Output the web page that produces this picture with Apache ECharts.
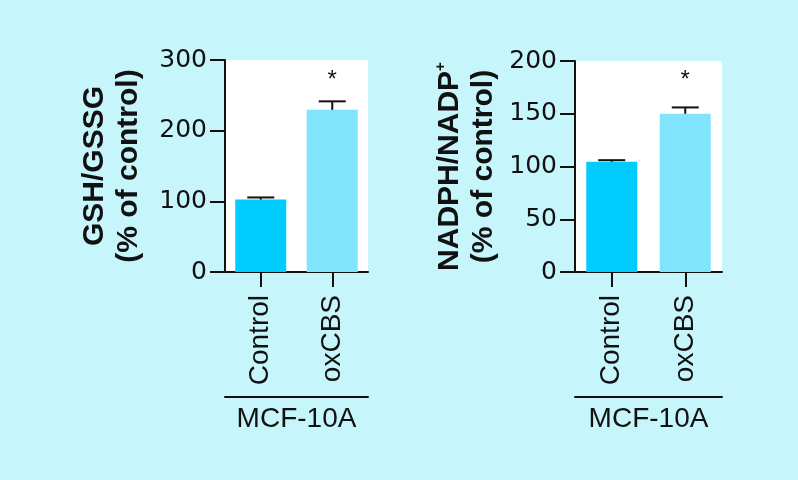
<!DOCTYPE html>
<html>
<head>
<meta charset="utf-8">
<script src="https://cdn.jsdelivr.net/npm/echarts@6/dist/echarts.min.js"></script>
<style>
html,body{margin:0;padding:0;background:#c6f6fb;}
#c{width:798px;height:480px;}
</style>
</head>
<body>
<div id="c"></div>
<script>
const categories = ['Control', 'oxCBS'];
const groupLabel = ['MCF-10A'];
const gshMean = [102.5, 229.5];
const gshErr = [3, 12];
const nadphMean = [104.5, 150];
const nadphErr = [1.5, 6];
const significance = ['', '*'];
const barColors = ['#00ccff', '#80e4fc'];
const leftTicks = {min: 0, max: 300, interval: 100};
const rightTicks = {min: 0, max: 200, interval: 50};

const FONT = 'Liberation Sans, Arial, Helvetica, sans-serif';
const WIDE = 'DejaVu Sans, Verdana, sans-serif';
const chart = echarts.init(document.getElementById('c'));

function barData(vals) {
  return vals.map((v, i) => ({value: v, itemStyle: {color: barColors[i]}}));
}
function errData(means, errs) {
  return means.map((m, i) => [i, m, errs[i]]);
}
function makeRender(starOffset) {
  return function (params, api) {
    const x = api.value(0), m = api.value(1), e = api.value(2);
    const sig = significance[params.dataIndex];
    const p0 = api.coord([x, m]);
    const p1 = api.coord([x, m + e]);
    const half = 13.5;
    const children = [
      {type: 'line', shape: {x1: p0[0], y1: p0[1], x2: p1[0], y2: p1[1]}, style: {stroke: '#111', lineWidth: 2}},
      {type: 'line', shape: {x1: p1[0] - half, y1: p1[1], x2: p1[0] + half, y2: p1[1]}, style: {stroke: '#111', lineWidth: 2}}
    ];
    if (sig) {
      children.push({type: 'text', style: {text: sig, x: p1[0], y: p1[1] - starOffset, align: 'center', verticalAlign: 'middle', font: '24px ' + FONT, fill: '#111'}});
    }
    return {type: 'group', children: children};
  };
}

const axisLineStyle = {lineStyle: {color: '#111', width: 2}};
function yAxis(gi, ticks, name, gap) {
  return {
    type: 'value', gridIndex: gi, min: ticks.min, max: ticks.max, interval: ticks.interval,
    axisLine: {show: true, ...axisLineStyle},
    axisTick: {show: true, length: 15, lineStyle: {color: '#111', width: 2}},
    axisLabel: {color: '#111', fontSize: 25, fontFamily: WIDE, margin: 18},
    splitLine: {show: false},
    name: name, nameLocation: 'middle', nameRotate: 90, nameGap: gap,
    nameTextStyle: {color: '#111', fontSize: 30, fontWeight: 'bold', fontFamily: FONT, lineHeight: 34, rich: nameRich}
  };
}
function xAxis(gi) {
  return {
    type: 'category', gridIndex: gi, data: categories,
    axisLine: {show: true, ...axisLineStyle},
    axisTick: {show: true, alignWithLabel: true, length: 15, lineStyle: {color: '#111', width: 2}},
    axisLabel: {color: '#111', fontSize: 28, fontFamily: FONT, rotate: 90, margin: 23}
  };
}
function groupAxis(gi) {
  return {
    type: 'category', gridIndex: gi, data: groupLabel, position: 'bottom', offset: 125,
    axisLine: {show: true, ...axisLineStyle},
    axisTick: {show: false},
    axisLabel: {color: '#111', fontSize: 28, fontFamily: FONT, margin: 8}
  };
}

const nameRich = {
  a: {fontSize: 30, fontWeight: 'bold', fontFamily: FONT, color: '#111', lineHeight: 34},
  sup: {fontSize: 15, fontWeight: 'bold', fontFamily: FONT, color: '#111', lineHeight: 15, verticalAlign: 'top'}
};

chart.setOption({
  backgroundColor: '#c6f6fb',
  animation: false,
  grid: [
    {left: 225, top: 60, width: 143, height: 212, show: true, backgroundColor: '#fff', borderWidth: 0},
    {left: 575, top: 61, width: 147, height: 211, show: true, backgroundColor: '#fff', borderWidth: 0}
  ],
  xAxis: [xAxis(0), xAxis(1), groupAxis(0), groupAxis(1)],
  yAxis: [
    yAxis(0, leftTicks, '{a|GSH/GSSG}\n{a|(% of control)}', 79),
    yAxis(1, rightTicks, '{a|NADPH/NADP}{sup|+}\n{a|(% of control)}', 74)
  ],
  series: [
    {type: 'bar', xAxisIndex: 0, yAxisIndex: 0, data: barData(gshMean), barWidth: 51},
    {type: 'custom', xAxisIndex: 0, yAxisIndex: 0, data: errData(gshMean, gshErr), renderItem: makeRender(21), z: 5},
    {type: 'bar', xAxisIndex: 1, yAxisIndex: 1, data: barData(nadphMean), barWidth: 51},
    {type: 'custom', xAxisIndex: 1, yAxisIndex: 1, data: errData(nadphMean, nadphErr), renderItem: makeRender(27), z: 5}
  ]
});
</script>
</body>
</html>
